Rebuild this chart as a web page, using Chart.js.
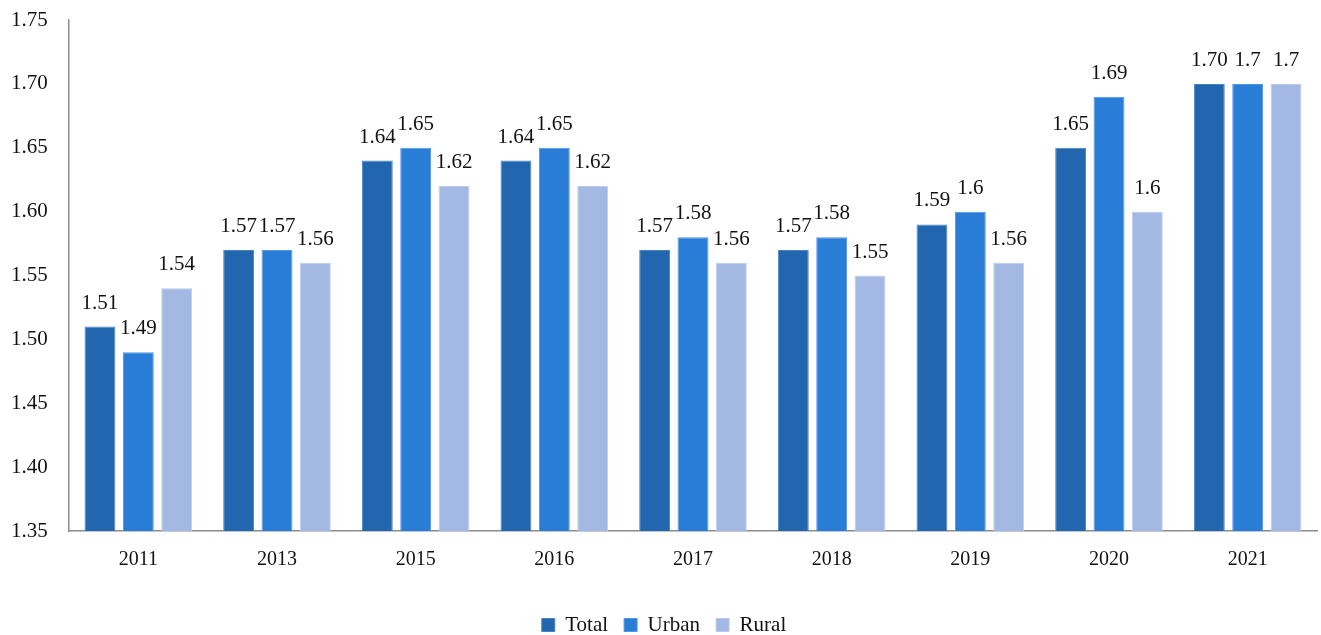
<!DOCTYPE html>
<html>
<head>
<meta charset="utf-8">
<script src="https://cdn.jsdelivr.net/npm/chart.js@4/dist/chart.umd.min.js"></script>
<style>
  html, body { margin: 0; padding: 0; background: #fff; }
  #wrap { width: 1321px; height: 635px; }
</style>
</head>
<body>
<div id="wrap"><canvas id="c" width="1321" height="635"></canvas></div>
<script>
// Survey years
const years = ['2011', '2013', '2015', '2016', '2017', '2018', '2019', '2020', '2021'];

// Values per area type
const totalValues = [1.51, 1.57, 1.64, 1.64, 1.57, 1.57, 1.59, 1.65, 1.70];
const urbanValues = [1.49, 1.57, 1.65, 1.65, 1.58, 1.58, 1.6, 1.69, 1.7];
const ruralValues = [1.54, 1.56, 1.62, 1.62, 1.56, 1.55, 1.56, 1.6, 1.7];

// Printed labels above the bars (as published, with their own rounding)
const totalLabels = ['1.51', '1.57', '1.64', '1.64', '1.57', '1.57', '1.59', '1.65', '1.70'];
const urbanLabels = ['1.49', '1.57', '1.65', '1.65', '1.58', '1.58', '1.6', '1.69', '1.7'];
const ruralLabels = ['1.54', '1.56', '1.62', '1.62', '1.56', '1.55', '1.56', '1.6', '1.7'];

// Y axis range
const yMin = 1.35, yMax = 1.75, yStep = 0.05;

const FONT = '"Liberation Serif", "Times New Roman", serif';

// Writes each bar's printed label just above the bar top
const barLabels = {
  id: 'barLabels',
  afterDatasetsDraw(chart) {
    const ctx = chart.ctx;
    ctx.save();
    ctx.font = '21px ' + FONT;
    ctx.fillStyle = '#111';
    ctx.textAlign = 'center';
    ctx.textBaseline = 'alphabetic';
    chart.data.datasets.forEach((ds, i) => {
      const meta = chart.getDatasetMeta(i);
      meta.data.forEach((bar, j) => {
        ctx.fillText(ds.printed[j], bar.x, bar.y - 18);
      });
    });
    ctx.restore();
  }
};

new Chart(document.getElementById('c'), {
  type: 'bar',
  data: {
    labels: years,
    datasets: [
      { label: 'Total', data: totalValues, printed: totalLabels,
        backgroundColor: '#2166ae', borderColor: '#4a84c0', borderWidth: 1 },
      { label: 'Urban', data: urbanValues, printed: urbanLabels,
        backgroundColor: '#2a7dd6', borderColor: '#5096e0', borderWidth: 1 },
      { label: 'Rural', data: ruralValues, printed: ruralLabels,
        backgroundColor: '#a3b9e4', borderColor: '#bccbec', borderWidth: 1 }
    ]
  },
  options: {
    responsive: false,
    animation: false,
    devicePixelRatio: 1,
    layout: { padding: { top: 20, right: 4, bottom: -10.5, left: 11 } },
    datasets: {
      bar: { categoryPercentage: 0.83, barPercentage: 0.805 }
    },
    scales: {
      x: {
        grid: { display: false, drawTicks: false },
        border: { display: true, color: '#8c8c8c', width: 1.5 },
        ticks: { color: '#111', font: { family: FONT, size: 20 }, padding: 17 },
        afterFit(scale) { scale.height = 67.5; }
      },
      y: {
        min: yMin, max: yMax,
        grid: { display: false, drawTicks: false },
        border: { display: true, color: '#8c8c8c', width: 1.5 },
        ticks: {
          stepSize: yStep,
          color: '#111',
          font: { family: FONT, size: 21 },
          padding: 0,
          crossAlign: 'far',
          callback: v => Number(v).toFixed(2)
        },
        afterFit(scale) { scale.width = 58; }
      }
    },
    plugins: {
      legend: {
        position: 'bottom',
        labels: {
          color: '#111',
          font: { family: FONT, size: 21 },
          boxWidth: 13, boxHeight: 13,
          padding: 16
        }
      },
      tooltip: { enabled: false }
    }
  },
  plugins: [barLabels]
});
</script>
</body>
</html>
